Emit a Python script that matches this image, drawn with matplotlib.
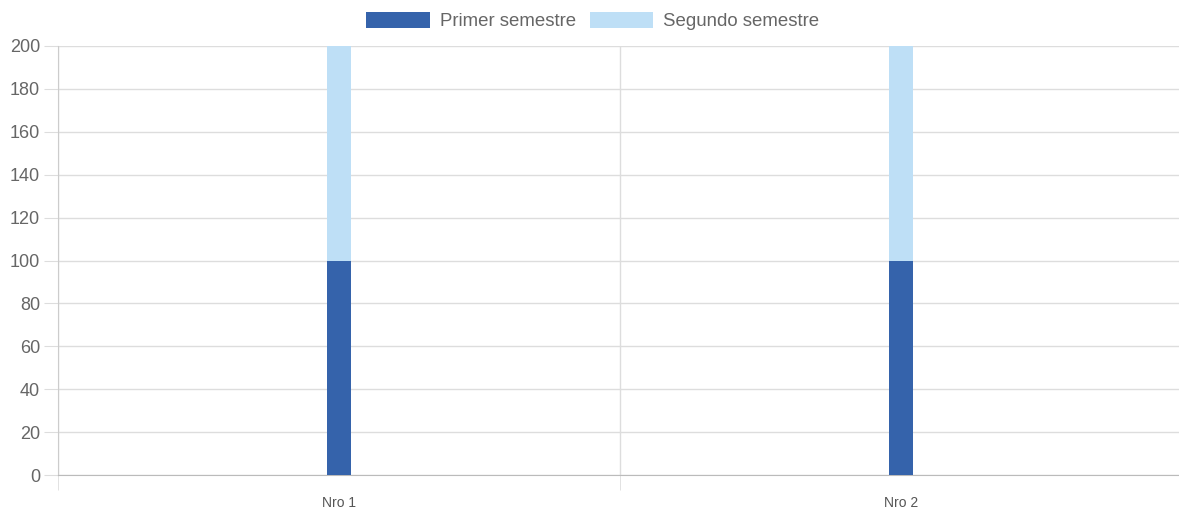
#!/usr/bin/env python
"""
Stacked bar chart: first and second semester per Nro.
"""

import matplotlib

matplotlib.use("Agg")
import matplotlib.pyplot as plt
from matplotlib.patches import Patch

categories = ["Nro 1", "Nro 2"]
primer = [100, 100]
segundo = [100, 100]
series_labels = ["Primer semestre", "Segundo semestre"]
y_ticks = [0, 20, 40, 60, 80, 100, 120, 140, 160, 180, 200]

DARK = "#3563ab"
LIGHT = "#bedff6"
GRID = "#dddddd"

plt.rcParams["font.family"] = ["Liberation Sans", "DejaVu Sans"]


def main():
    fig = plt.figure(figsize=(11.79, 5.14), dpi=100)
    ax = fig.add_axes([58 / 1179, 39 / 514, 1124 / 1179, 429 / 514])

    x = list(range(len(categories)))
    ax.bar(x, primer, width=0.043, color=DARK, zorder=3)
    ax.bar(x, segundo, width=0.043, bottom=primer, color=LIGHT, zorder=3)

    ax.set_xlim(-0.5, len(categories) - 0.5)
    ax.set_ylim(0, 200)
    ax.set_yticks(y_ticks)
    ax.set_xticks(x)
    ax.set_xticklabels(categories)
    ax.set_xticks([i - 0.5 for i in range(len(categories) + 1)], minor=True)

    ax.grid(axis="y", color=GRID, linewidth=1, zorder=0)
    ax.grid(axis="x", which="minor", color=GRID, linewidth=1, zorder=0)
    ax.tick_params(axis="y", length=10, color=GRID, labelsize=13,
                   labelcolor="#666666", pad=3)
    ax.tick_params(axis="x", which="major", length=0, labelsize=10,
                   labelcolor="#555555", pad=15)
    ax.tick_params(axis="x", which="minor", length=11, color=GRID)

    for side in ["top", "right"]:
        ax.spines[side].set_visible(False)
    ax.spines["left"].set_color("#cccccc")
    ax.spines["bottom"].set_color("#bbbbbb")

    handles = [Patch(facecolor=DARK), Patch(facecolor=LIGHT)]
    fig.legend(handles, series_labels, loc="center", ncol=2,
               bbox_to_anchor=(593 / 1179, 1 - 21 / 514), frameon=False,
               fontsize=13.4, labelcolor="#666666", handlelength=3.4,
               handleheight=0.97, handletextpad=0.55, columnspacing=0.75,
               borderaxespad=0)

    fig.savefig("out.png", dpi=100)
    plt.close(fig)


if __name__ == "__main__":
    main()
